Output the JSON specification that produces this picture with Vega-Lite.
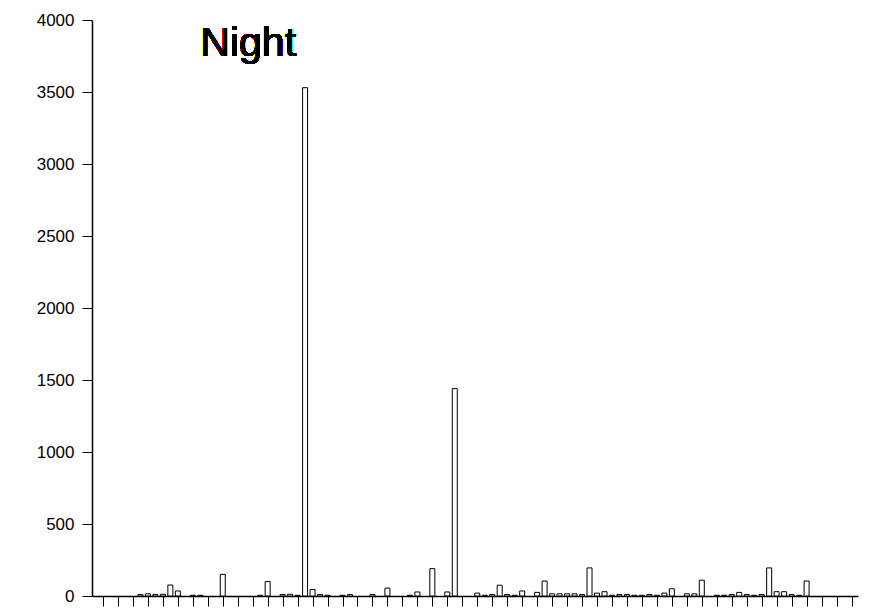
{
  "$schema": "https://vega.github.io/schema/vega-lite/v6.json",
  "autosize": "none",
  "width": 766,
  "height": 576,
  "padding": {"left": 92, "top": 20, "right": 11, "bottom": 14},
  "background": "white",
  "config": {"view": {"stroke": null}, "font": "Liberation Sans"},
  "data": {"values": [
    {"i":0,"v":0},{"i":1,"v":0},{"i":2,"v":0},{"i":3,"v":0},{"i":4,"v":0},
    {"i":5,"v":10},{"i":6,"v":15},{"i":7,"v":10},{"i":8,"v":12},{"i":9,"v":76},
    {"i":10,"v":35},{"i":11,"v":0},{"i":12,"v":5},{"i":13,"v":5},{"i":14,"v":0},
    {"i":15,"v":0},{"i":16,"v":150},{"i":17,"v":0},{"i":18,"v":0},{"i":19,"v":0},
    {"i":20,"v":0},{"i":21,"v":5},{"i":22,"v":100},{"i":23,"v":0},{"i":24,"v":10},
    {"i":25,"v":12},{"i":26,"v":5},{"i":27,"v":3530},{"i":28,"v":45},{"i":29,"v":10},
    {"i":30,"v":5},{"i":31,"v":0},{"i":32,"v":5},{"i":33,"v":10},{"i":34,"v":0},
    {"i":35,"v":0},{"i":36,"v":10},{"i":37,"v":0},{"i":38,"v":55},{"i":39,"v":0},
    {"i":40,"v":0},{"i":41,"v":5},{"i":42,"v":28},{"i":43,"v":0},{"i":44,"v":190},
    {"i":45,"v":0},{"i":46,"v":28},{"i":47,"v":1440},{"i":48,"v":0},{"i":49,"v":0},
    {"i":50,"v":20},{"i":51,"v":5},{"i":52,"v":10},{"i":53,"v":75},{"i":54,"v":10},
    {"i":55,"v":5},{"i":56,"v":35},{"i":57,"v":0},{"i":58,"v":25},{"i":59,"v":104},
    {"i":60,"v":15},{"i":61,"v":15},{"i":62,"v":15},{"i":63,"v":15},{"i":64,"v":10},
    {"i":65,"v":195},{"i":66,"v":20},{"i":67,"v":30},{"i":68,"v":5},{"i":69,"v":10},
    {"i":70,"v":10},{"i":71,"v":5},{"i":72,"v":5},{"i":73,"v":10},{"i":74,"v":5},
    {"i":75,"v":20},{"i":76,"v":50},{"i":77,"v":0},{"i":78,"v":15},{"i":79,"v":15},
    {"i":80,"v":110},{"i":81,"v":0},{"i":82,"v":5},{"i":83,"v":5},{"i":84,"v":10},
    {"i":85,"v":25},{"i":86,"v":10},{"i":87,"v":5},{"i":88,"v":10},{"i":89,"v":195},
    {"i":90,"v":30},{"i":91,"v":30},{"i":92,"v":10},{"i":93,"v":5},{"i":94,"v":104},
    {"i":95,"v":0},{"i":96,"v":0},{"i":97,"v":0},{"i":98,"v":0},{"i":99,"v":0},{"i":100,"v":0}
  ]},
  "layer": [
    {
      "mark": {"type": "bar", "size": 5, "fill": "white", "stroke": "black", "strokeWidth": 1},
      "transform": [{"filter": "datum.v > 0"}],
      "encoding": {
        "x": {
          "field": "i", "type": "quantitative",
          "scale": {"domain": [-0.8, 100.2], "nice": false, "zero": false},
          "axis": {
            "title": null, "labels": false, "grid": false,
            "values": [0,2,4,6,8,10,12,14,16,18,20,22,24,26,28,30,32,34,36,38,40,42,44,46,48,50,52,54,56,58,60,62,64,66,68,70,72,74,76,78,80,82,84,86,88,90,92,94,96,98,100],
            "tickSize": 10, "tickColor": "black", "domainColor": "black", "domainWidth": 1.5
          }
        },
        "y": {
          "field": "v", "type": "quantitative",
          "scale": {"domain": [0, 4000], "nice": false},
          "axis": {
            "title": null, "grid": false,
            "values": [0,500,1000,1500,2000,2500,3000,3500,4000],
            "tickSize": 10, "tickColor": "black", "domainColor": "black", "domainWidth": 1.5,
            "labelFontSize": 17, "labelColor": "black", "labelPadding": 8, "format": "d"
          }
        }
      }
    },
    {
      "mark": {"type": "text", "fontSize": 41, "font": "Liberation Sans", "color": "black", "align": "center", "baseline": "middle"},
      "encoding": {
        "x": {
          "datum": 19.4, "type": "quantitative",
          "scale": {"domain": [-0.8, 100.2], "nice": false, "zero": false},
          "axis": {
            "title": null, "labels": false, "grid": false,
            "values": [0,2,4,6,8,10,12,14,16,18,20,22,24,26,28,30,32,34,36,38,40,42,44,46,48,50,52,54,56,58,60,62,64,66,68,70,72,74,76,78,80,82,84,86,88,90,92,94,96,98,100],
            "tickSize": 10, "tickColor": "black", "domainColor": "black", "domainWidth": 1.5
          }
        },
        "y": {
          "datum": 3830, "type": "quantitative",
          "scale": {"domain": [0, 4000], "nice": false},
          "axis": {
            "title": null, "grid": false,
            "values": [0,500,1000,1500,2000,2500,3000,3500,4000],
            "tickSize": 10, "tickColor": "black", "domainColor": "black", "domainWidth": 1.5,
            "labelFontSize": 17, "labelColor": "black", "labelPadding": 8, "format": "d"
          }
        },
        "text": {"value": "Night"}
      }
    }
  ]
}
